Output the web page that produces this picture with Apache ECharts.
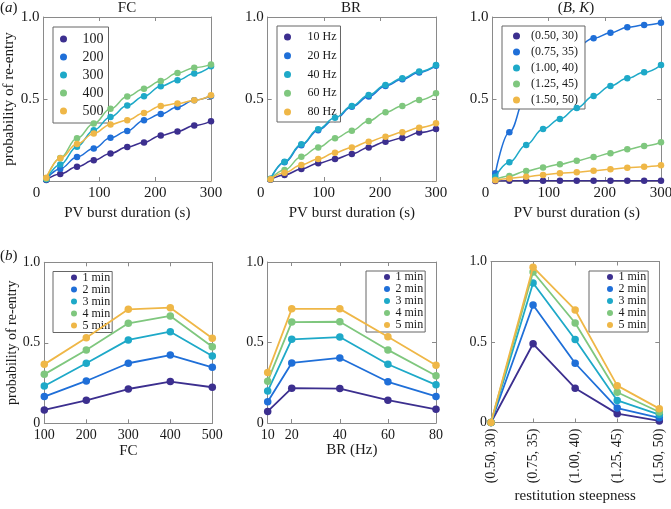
<!DOCTYPE html>
<html>
<head>
<meta charset="utf-8">
<title>probability of re-entry</title>
<script src="https://cdn.jsdelivr.net/npm/echarts@6.0.0/dist/echarts.min.js"></script>
<style>
html, body { margin: 0; padding: 0; background: #fff; }
#main { width: 671px; height: 509px; }
</style>
</head>
<body>
<div id="main"></div>
<script>
// (a) PV burst duration (s)
var burstTimes = [5, 30, 60, 90, 120, 150, 180, 210, 240, 270, 300];

var fcNames = ['100', '200', '300', '400', '500'];
var fc100 = [0.006, 0.043, 0.087, 0.126, 0.168, 0.207, 0.235, 0.278, 0.302, 0.338, 0.365];
var fc200 = [0.010, 0.075, 0.146, 0.198, 0.263, 0.305, 0.371, 0.408, 0.451, 0.493, 0.519];
var fc300 = [0.010, 0.100, 0.209, 0.310, 0.390, 0.460, 0.517, 0.578, 0.614, 0.655, 0.699];
var fc400 = [0.015, 0.140, 0.260, 0.350, 0.440, 0.515, 0.563, 0.610, 0.658, 0.691, 0.711];
var fc500 = [0.020, 0.138, 0.225, 0.290, 0.345, 0.371, 0.415, 0.458, 0.472, 0.492, 0.523];

var brNames = ['10 Hz', '20 Hz', '40 Hz', '60 Hz', '80 Hz'];
var br10 = [0.008, 0.037, 0.073, 0.108, 0.134, 0.165, 0.205, 0.240, 0.262, 0.295, 0.317];
var br20 = [0.012, 0.114, 0.218, 0.310, 0.378, 0.452, 0.515, 0.580, 0.620, 0.662, 0.703];
var br40 = [0.014, 0.118, 0.224, 0.315, 0.385, 0.458, 0.524, 0.585, 0.626, 0.667, 0.707];
var br60 = [0.010, 0.067, 0.148, 0.205, 0.260, 0.307, 0.366, 0.419, 0.457, 0.494, 0.535];
var br80 = [0.010, 0.050, 0.098, 0.134, 0.173, 0.205, 0.240, 0.270, 0.297, 0.325, 0.352];

var bkNames = ['(0.50, 30)', '(0.75, 35)', '(1.00, 40)', '(1.25, 45)', '(1.50, 50)'];
var bk050 = [0.000, 0.002, 0.002, 0.002, 0.002, 0.002, 0.002, 0.002, 0.002, 0.002, 0.002];
var bk075 = [0.047, 0.297, 0.520, 0.650, 0.750, 0.820, 0.870, 0.904, 0.937, 0.951, 0.965];
var bk100 = [0.026, 0.114, 0.220, 0.317, 0.378, 0.445, 0.518, 0.579, 0.626, 0.663, 0.707];
var bk125 = [0.008, 0.030, 0.061, 0.083, 0.102, 0.124, 0.146, 0.169, 0.193, 0.213, 0.236];
var bk150 = [0.005, 0.016, 0.026, 0.037, 0.047, 0.053, 0.063, 0.071, 0.081, 0.087, 0.096];

// (b) window length
var minNames = ['1 min', '2 min', '3 min', '4 min', '5 min'];

var fcValues = [100, 200, 300, 400, 500];
var fcMin1 = [0.083, 0.143, 0.213, 0.259, 0.224];
var fcMin2 = [0.166, 0.263, 0.373, 0.424, 0.348];
var fcMin3 = [0.232, 0.373, 0.518, 0.569, 0.418];
var fcMin4 = [0.304, 0.455, 0.621, 0.667, 0.476];
var fcMin5 = [0.366, 0.532, 0.708, 0.718, 0.528];

var brValues = [10, 20, 40, 60, 80];
var brMin1 = [0.072, 0.216, 0.214, 0.142, 0.085];
var brMin2 = [0.132, 0.373, 0.404, 0.256, 0.165];
var brMin3 = [0.198, 0.520, 0.534, 0.365, 0.237];
var brMin4 = [0.260, 0.627, 0.629, 0.454, 0.293];
var brMin5 = [0.313, 0.709, 0.709, 0.536, 0.359];

var bkLabels = ['(0.50, 30)', '(0.75, 35)', '(1.00, 40)', '(1.25, 45)', '(1.50, 50)'];
var bkMin1 = [0, 0.489, 0.213, 0.055, 0.010];
var bkMin2 = [0, 0.730, 0.368, 0.090, 0.029];
var bkMin3 = [0, 0.867, 0.515, 0.137, 0.049];
var bkMin4 = [0, 0.935, 0.618, 0.188, 0.065];
var bkMin5 = [0, 0.965, 0.699, 0.229, 0.086];

var colors = ['#3c2f8f', '#1f6fd8', '#1ea9c8', '#7fc77e', '#efb747'];
var FONT = 'Liberation Serif';
var GRAY = '#8a8a8a';
var INK = '#1a1a1a';

window.onload = function(){
	drawChart();
};

function pairs(xs, ys){
	return xs.map(function(x, i){ return [x, ys[i]]; });
}

//一对坐标轴: 主轴 + 对面只画刻度的轴
function xAxes(grid, base){
	var main = {
		gridIndex: grid, position: 'bottom',
		axisLine: {show: true, onZero: false, lineStyle: {color: GRAY}},
		axisTick: {show: true, inside: true, length: 4, lineStyle: {color: GRAY}},
		splitLine: {show: false},
		axisLabel: {color: INK, fontFamily: FONT, fontSize: 15, margin: 5},
		nameLocation: 'middle',
		nameTextStyle: {color: INK, fontFamily: FONT, fontSize: 15}
	};
	var mirror = {
		gridIndex: grid, position: 'top',
		axisLine: {show: true, onZero: false, lineStyle: {color: GRAY}},
		axisTick: {show: true, inside: true, length: 4, lineStyle: {color: GRAY}},
		splitLine: {show: false},
		axisLabel: {show: false}
	};
	for (var k in base) {
		if (k === 'axisLabel') {
			main.axisLabel = Object.assign({}, main.axisLabel, base.axisLabel);
		} else if (k === 'name' || k === 'nameGap') {
			main[k] = base[k];
		} else if (k === 'axisTick') {
			main.axisTick = Object.assign({}, main.axisTick, base.axisTick);
			mirror.axisTick = Object.assign({}, mirror.axisTick, base.axisTick);
		} else {
			main[k] = base[k];
			mirror[k] = base[k];
		}
	}
	return [main, mirror];
}

function yAxes(grid, zeroLabel, withName, fontSize){
	var base = {
		type: 'value', min: 0, max: 1, interval: 0.5,
		splitLine: {show: false},
		axisLine: {show: true, onZero: false, lineStyle: {color: GRAY}},
		axisTick: {show: true, inside: true, length: 4, lineStyle: {color: GRAY}}
	};
	var main = Object.assign({}, base, {
		gridIndex: grid, position: 'left',
		axisLabel: {
			color: INK, fontFamily: FONT, fontSize: fontSize, margin: 4,
			formatter: function(v){ return v === 0 ? zeroLabel : v.toFixed(1); }
		}
	});
	if (withName) {
		main.name = 'probability of re-entry';
		main.nameLocation = 'middle';
		main.nameGap = 23;
		main.nameTextStyle = {color: INK, fontFamily: FONT, fontSize: fontSize};
	}
	var mirror = Object.assign({}, base, {gridIndex: grid, position: 'right', axisLabel: {show: false}});
	return [main, mirror];
}

// 图例框: 圆点放在较宽的图标格子中间, 以拉开与文字的距离
function legendBox(names, left, top, opt){
	return {
		data: names, orient: 'vertical', left: left, top: top,
		icon: 'circle', itemWidth: opt.slot, itemHeight: opt.icon,
		itemGap: opt.gap, itemTextGap: 5, padding: opt.padding,
		borderColor: '#666', borderWidth: 1, borderRadius: 0, backgroundColor: '#fff',
		textStyle: {color: INK, fontFamily: FONT, fontSize: opt.font, lineHeight: opt.lineHeight}
	};
}

function panelSeries(names, xs, list, axis, smooth, size, width){
	return list.map(function(ys, i){
		return {
			name: names[i], type: 'line',
			xAxisIndex: axis * 2, yAxisIndex: axis * 2,
			data: pairs(xs, ys),
			smooth: smooth, smoothMonotone: smooth ? 'x' : undefined,
			symbol: 'circle', symbolSize: size, showSymbol: true,
			itemStyle: {color: colors[i]},
			lineStyle: {color: colors[i], width: width},
			z: 2 + i
		};
	});
}

function drawChart(){
	var chart = echarts.init(document.getElementById('main'), null, {renderer: 'canvas'});

	var grids = [
		{left: 43.5, top: 17, width: 167.5, height: 164},
		{left: 267.7, top: 17, width: 168.3, height: 164},
		{left: 492.5, top: 17, width: 168.5, height: 164},
		{left: 44.3, top: 262.3, width: 168, height: 161},
		{left: 267.7, top: 262, width: 168.3, height: 161},
		{left: 491, top: 261.5, width: 168.3, height: 161}
	].map(function(g){ return Object.assign({outerBoundsMode: 'none', containLabel: false}, g); });

	var burstAxis = {
		type: 'value', min: 0, max: 300, interval: 100,
		name: 'PV burst duration (s)', nameGap: 25,
		axisLabel: {
			formatter: function(v){ return v === 0 ? '{z|0}' : String(v); },
			rich: {z: {padding: [0, 14, 0, 0], fontFamily: FONT, fontSize: 15, color: INK}}
		}
	};

	var xs = [].concat(
		xAxes(0, burstAxis),
		xAxes(1, burstAxis),
		xAxes(2, burstAxis),
		xAxes(3, {type: 'value', min: 100, max: 500, interval: 100, name: 'FC', nameGap: 19,
			axisLabel: {fontSize: 14}}),
		xAxes(4, {type: 'value', min: 10, max: 80, name: 'BR (Hz)', nameGap: 20,
			axisLabel: {fontSize: 14, customValues: brValues},
			axisTick: {customValues: brValues}}),
		xAxes(5, {type: 'category', data: bkLabels, boundaryGap: false,
			name: 'restitution steepness', nameGap: 66,
			axisLabel: {fontSize: 14, rotate: 90, interval: 0, margin: 6},
			axisTick: {interval: 0}})
	);

	var ys = [].concat(
		yAxes(0, '', true, 15), yAxes(1, '', false, 15), yAxes(2, '', false, 15),
		yAxes(3, '0', true, 14), yAxes(4, '0', false, 14), yAxes(5, '0', false, 14)
	);

	var series = [].concat(
		panelSeries(fcNames, burstTimes, [fc100, fc200, fc300, fc400, fc500], 0, 0.4, 6.5, 1.5),
		panelSeries(brNames, burstTimes, [br10, br20, br40, br60, br80], 1, 0.4, 6.5, 1.5),
		panelSeries(bkNames, burstTimes, [bk050, bk075, bk100, bk125, bk150], 2, 0.4, 6.5, 1.5),
		panelSeries(minNames, fcValues, [fcMin1, fcMin2, fcMin3, fcMin4, fcMin5], 3, false, 7.5, 1.8),
		panelSeries(minNames, brValues, [brMin1, brMin2, brMin3, brMin4, brMin5], 4, false, 7.5, 1.8),
		panelSeries(minNames, bkLabels, [bkMin1, bkMin2, bkMin3, bkMin4, bkMin5], 5, false, 7.5, 1.8)
	);

	var topFc = {icon: 7, slot: 28, gap: 4, padding: [5, 5, 5, 7], font: 14, lineHeight: 14};
	var topBr = {icon: 7, slot: 30, gap: 6.75, padding: [5, 4, 4, 7], font: 12, lineHeight: 12};
	var topBk = {icon: 7, slot: 19, gap: 4, padding: [4, 7, 3, 11], font: 12, lineHeight: 12};
	var small = {icon: 6, slot: 7, gap: 0, padding: [0, 2, 1, 18], font: 12, lineHeight: 11};

	var serif = {fontFamily: FONT, fontSize: 15, fill: INK};
	var rich = {i: {fontFamily: FONT, fontSize: 15, fontStyle: 'italic', color: INK}, n: {fontFamily: FONT, fontSize: 15, color: INK}};
	function label(txt, x, y, align){
		return {
			type: 'text', x: x, y: y,
			style: Object.assign({text: txt, textAlign: align, textVerticalAlign: 'middle', rich: rich}, serif)
		};
	}

	var option = {
		animation: false,
		color: colors,
		grid: grids,
		xAxis: xs,
		yAxis: ys,
		legend: [
			legendBox(fcNames, 53, 27, topFc),
			legendBox(brNames, 277, 26, topBr),
			legendBox(bkNames, 502, 26, topBk),
			legendBox(minNames, 53, 271.5, small),
			legendBox(minNames, 366, 271, small),
			legendBox(minNames, 589, 271, small)
		],
		graphic: [
			label('{n|(}{i|a}{n|)}', 0, 8, 'left'),
			label('{n|(}{i|b}{n|)}', 0, 256, 'left'),
			label('{n|FC}', 127, 8, 'center'),
			label('{n|BR}', 351, 8, 'center'),
			label('{n|(}{i|B}{n|, }{i|K}{n|)}', 576, 8, 'center')
		],
		series: series
	};

	chart.setOption(option);
}
</script>
</body>
</html>
